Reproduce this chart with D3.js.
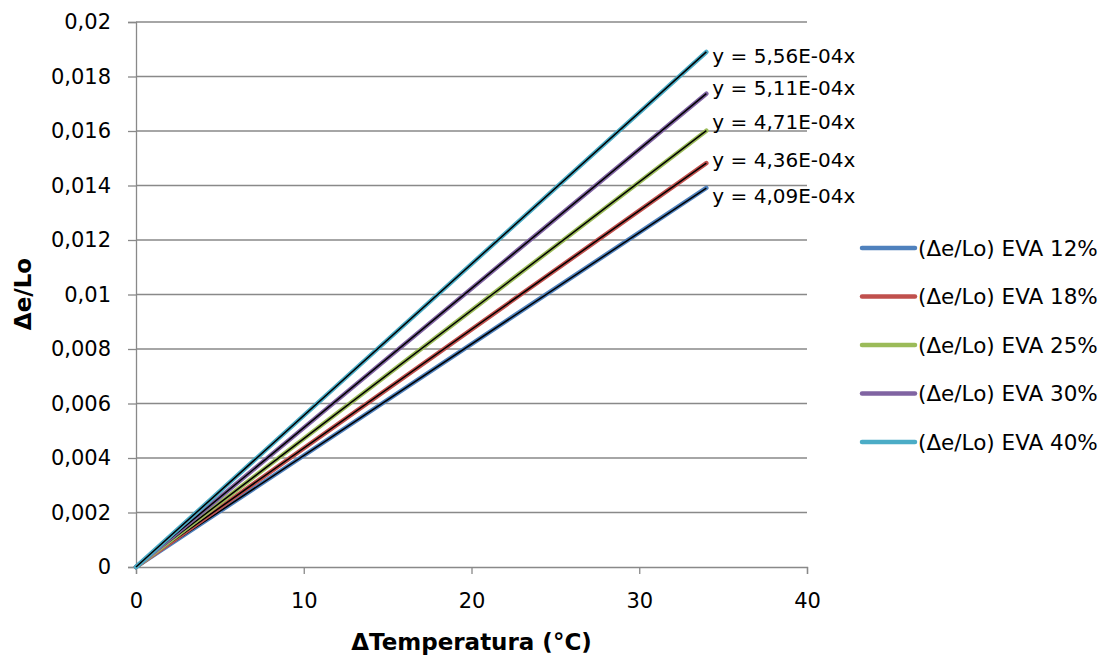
<!DOCTYPE html>
<html lang="es">
<head>
<meta charset="utf-8">
<title>Dilatación EVA</title>
<script src="https://cdnjs.cloudflare.com/ajax/libs/d3/7.8.5/d3.min.js"></script>
<style>
  body { margin: 0; background: #fff; }
  text { font-family: "DejaVu Sans", sans-serif; fill: #000; }
</style>
</head>
<body>
<script>
// data
var seriesNames = ["(Δe/Lo) EVA 12%", "(Δe/Lo) EVA 18%", "(Δe/Lo) EVA 25%", "(Δe/Lo) EVA 30%", "(Δe/Lo) EVA 40%"];
var deltaT = [0, 34];
var eva12 = [0, 0.01391];
var eva18 = [0, 0.01482];
var eva25 = [0, 0.01601];
var eva30 = [0, 0.01737];
var eva40 = [0, 0.01890];
var slopes = [4.09e-4, 4.36e-4, 4.71e-4, 5.11e-4, 5.56e-4];
var slopeLabels = ["y = 4,09E-04x", "y = 4,36E-04x", "y = 4,71E-04x", "y = 5,11E-04x", "y = 5,56E-04x"];
var xTicks = [0, 10, 20, 30, 40];
var yTicks = [0, 0.002, 0.004, 0.006, 0.008, 0.01, 0.012, 0.014, 0.016, 0.018, 0.02];

var colors = ["#4F81BD", "#C0504D", "#9BBB59", "#8064A2", "#4BACC6"];
var labelDy = [8, -3, -8.5, -5.5, 4]; // nudges so labels don't collide
var allY = [eva12, eva18, eva25, eva30, eva40];

var W = 1107, H = 661;
var x = d3.scaleLinear().domain([0, 40]).range([136, 807]);
var y = d3.scaleLinear().domain([0, 0.02]).range([567, 22]);
var fmt = function(v) { return String(+v.toFixed(3)).replace(".", ","); };

var svg = d3.select("body").append("svg").attr("width", W).attr("height", H);

// gridlines
svg.append("g").selectAll("line").data(yTicks.slice(1)).enter().append("line")
  .attr("x1", x(0)).attr("x2", x(40))
  .attr("y1", function(d) { return y(d); }).attr("y2", function(d) { return y(d); })
  .attr("stroke", "#898989").attr("stroke-width", 1.3);

// y axis
var yAxis = svg.append("g").attr("transform", "translate(" + x(0) + ",0)")
  .call(d3.axisLeft(y).tickValues(yTicks).tickFormat(fmt).tickSize(8).tickPadding(17));
// x axis
var xAxis = svg.append("g").attr("transform", "translate(0," + y(0) + ")")
  .call(d3.axisBottom(x).tickValues(xTicks).tickFormat(d3.format("d")).tickSize(7).tickPadding(19));

[yAxis, xAxis].forEach(function(a) {
  a.select(".domain").attr("stroke", "#898989").attr("stroke-width", 1.3);
  a.selectAll(".tick line").attr("stroke", "#898989").attr("stroke-width", 1.3);
  a.selectAll("text").style("font-family", "DejaVu Sans").style("font-size", "21px").attr("fill", "#000");
});

// series + linear trendlines
var line = d3.line().x(function(d) { return x(d[0]); }).y(function(d) { return y(d[1]); });
allY.forEach(function(vals, i) {
  var pts = deltaT.map(function(t, j) { return [t, vals[j]]; });
  svg.append("path").attr("d", line(pts)).attr("fill", "none")
    .attr("stroke", colors[i]).attr("stroke-width", 4.5).attr("stroke-linecap", "round");
  var t1 = deltaT[deltaT.length - 1];
  svg.append("path").attr("d", line([[0, 0], [t1, slopes[i] * t1]])).attr("fill", "none")
    .attr("stroke", "#000").attr("stroke-width", 1.5);
  svg.append("text")
    .attr("x", x(t1) + 6).attr("y", y(slopes[i] * t1) + labelDy[i])
    .attr("dy", "0.35em").style("font-size", "20px")
    .text(slopeLabels[i]);
});

// legend
var lg = svg.append("g");
seriesNames.forEach(function(n, i) {
  var ly = 248 + i * 48.5;
  lg.append("line").attr("x1", 862).attr("x2", 915).attr("y1", ly).attr("y2", ly)
    .attr("stroke", colors[i]).attr("stroke-width", 4.5).attr("stroke-linecap", "round");
  lg.append("text").attr("x", 918).attr("y", ly).attr("dy", "0.35em")
    .style("font-size", "21.5px").text(n);
});

// axis titles
svg.append("text").attr("x", (x(0) + x(40)) / 2).attr("y", 650)
  .attr("text-anchor", "middle").style("font-size", "23px").style("font-weight", "bold")
  .text("ΔTemperatura (°C)");
svg.append("text").attr("transform", "translate(31,294) rotate(-90)")
  .attr("text-anchor", "middle").style("font-size", "23px").style("font-weight", "bold")
  .text("Δe/Lo");
</script>
</body>
</html>
